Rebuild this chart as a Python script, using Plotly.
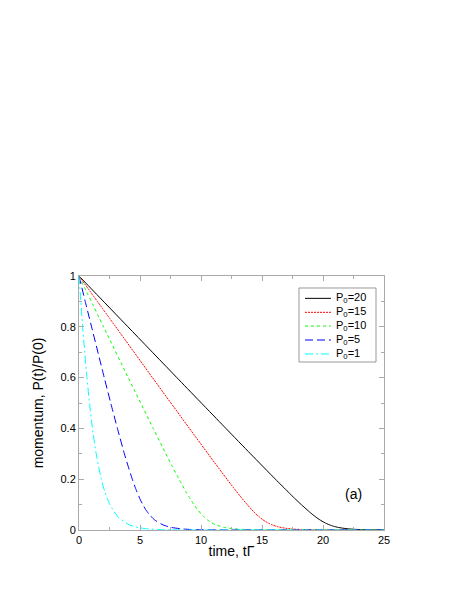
import plotly.graph_objects as go

# P(t)/P(0) curves, one pair of lists per P0
t_p20 = [0, 4.01, 8.02, 12.04, 14.06, 16.10, 17.14, 17.67, 18.22, 18.80, 19.17, 19.44,
         19.74, 20.09, 20.30, 20.55, 20.85, 21.27, 21.97, 22.66, 23.58, 24.27, 25.0]
v_p20 = [1, 0.8, 0.6, 0.4, 0.3, 0.2, 0.15, 0.125, 0.1, 0.075, 0.06, 0.05,
         0.04, 0.03, 0.025, 0.02, 0.015, 0.01, 0.005, 0.0025, 0.001, 0.0005, 0.00025]

t_p15 = [0, 3.01, 6.02, 9.05, 11.09, 12.13, 12.66, 13.21, 13.79, 14.16, 14.43,
         14.73, 15.08, 15.29, 15.54, 15.84, 16.26, 16.96, 17.66, 18.57, 19.27, 19.96, 21.0, 25.0]
v_p15 = [1, 0.8, 0.6, 0.4, 0.2667, 0.2, 0.1667, 0.1333, 0.1, 0.08, 0.0667,
         0.0533, 0.04, 0.0333, 0.0267, 0.02, 0.0133, 0.0067, 0.0033, 0.0013, 0.0007, 0.0003, 0.0001, 0]

t_p10 = [0, 2.01, 4.03, 6.08, 7.12, 7.65, 8.20, 8.77, 9.15, 9.42, 9.72,
         10.07, 10.28, 10.52, 10.83, 11.24, 11.94, 12.64, 13.56, 14.25, 14.94, 16.5, 25.0]
v_p10 = [1, 0.8, 0.6, 0.4, 0.3, 0.25, 0.2, 0.15, 0.12, 0.1, 0.08,
         0.06, 0.05, 0.04, 0.03, 0.02, 0.01, 0.005, 0.002, 0.001, 0.0005, 0.0001, 0]

t_p5 = [0, 0.51, 1.03, 2.07, 2.60, 3.15, 3.72, 4.10, 4.37, 4.67, 5.02, 5.23,
        5.47, 5.78, 6.19, 6.89, 7.59, 8.51, 9.20, 9.89, 11.5, 25.0]
v_p5 = [1, 0.9, 0.8, 0.6, 0.5, 0.4, 0.3, 0.24, 0.2, 0.16, 0.12, 0.1,
        0.08, 0.06, 0.04, 0.02, 0.01, 0.004, 0.002, 0.001, 0.0002, 0]

t_p1 = [0, 0.15, 0.30, 0.47, 0.65, 0.86, 1.10, 1.41, 1.83, 2.12, 2.53, 3.22,
        4.14, 4.83, 5.52, 6.44, 8.0, 25.0]
v_p1 = [1, 0.9, 0.8, 0.7, 0.6, 0.5, 0.4, 0.3, 0.2, 0.15, 0.1, 0.05,
        0.02, 0.01, 0.005, 0.002, 0.0004, 0]

etiquetas = ["P<sub>0</sub>=20", "P<sub>0</sub>=15", "P<sub>0</sub>=10", "P<sub>0</sub>=5", "P<sub>0</sub>=1"]
datos = [(t_p20, v_p20), (t_p15, v_p15), (t_p10, v_p10), (t_p5, v_p5), (t_p1, v_p1)]
colores = ["#000000", "#ff0000", "#00ff00", "#0000ff", "#00ffff"]
trazos = ["solid", "2px,1px", "3px,3px", "8px,4px", "8px,3px,2px,3px"]

fig = go.Figure()
for nombre, (t, v), color, dash in zip(etiquetas, datos, colores, trazos):
    fig.add_trace(go.Scatter(
        x=t, y=v, mode="lines", name=nombre, showlegend=False,
        line=dict(color=color, width=1, dash=dash, shape="spline", smoothing=0.6)
    ))

# leyenda hecha a mano (la de plotly deja demasiado espacio entre filas)
fig.add_shape(type="rect", xref="paper", yref="paper", x0=0.7213, x1=0.9738,
              y0=0.6614, y1=0.9528, line=dict(color="#999999", width=1),
              fillcolor="white", layer="above")
filas_y = [0.912, 0.857, 0.803, 0.748, 0.693]
for nombre, color, dash, fy in zip(etiquetas, colores, trazos, filas_y):
    fig.add_shape(type="line", xref="paper", yref="paper", x0=0.741, x1=0.826,
                  y0=fy, y1=fy, line=dict(color=color, width=1, dash=dash), layer="above")
    fig.add_annotation(xref="paper", yref="paper", x=0.836, y=fy, text=nombre,
                       showarrow=False, xanchor="left", yanchor="middle",
                       font=dict(size=11, color="#000000"))

fig.add_annotation(x=22.5, y=0.142, text="(a)", showarrow=False,
                   font=dict(size=14, color="#000000"))

fig.update_layout(
    width=447, height=583,
    margin=dict(l=71, r=71, t=268, b=61),
    plot_bgcolor="white", paper_bgcolor="white",
    font=dict(family="Liberation Sans, Arial, sans-serif", size=11, color="#000000"),
    showlegend=False,
)
fig.update_xaxes(
    range=[0, 25], dtick=5, showgrid=False, zeroline=False,
    showline=True, linecolor="#aaaaaa", linewidth=1, mirror="ticks",
    ticks="inside", ticklen=5, tickcolor="#aaaaaa",
    minor=dict(ticks="inside", dtick=2.5, ticklen=3, tickcolor="#aaaaaa"),
    title=dict(text="time, tΓ", font=dict(size=14), standoff=0),
    tickfont=dict(size=11)
)
fig.update_yaxes(
    range=[0, 1], dtick=0.2, showgrid=False, zeroline=False,
    showline=True, linecolor="#aaaaaa", linewidth=1, mirror="ticks",
    ticks="inside", ticklen=5, tickcolor="#aaaaaa",
    minor=dict(ticks="inside", dtick=0.1, ticklen=3, tickcolor="#aaaaaa"),
    title=dict(text="momentum, P(t)/P(0)", font=dict(size=14), standoff=13),
    tickfont=dict(size=11)
)

fig.write_html("out.html")
